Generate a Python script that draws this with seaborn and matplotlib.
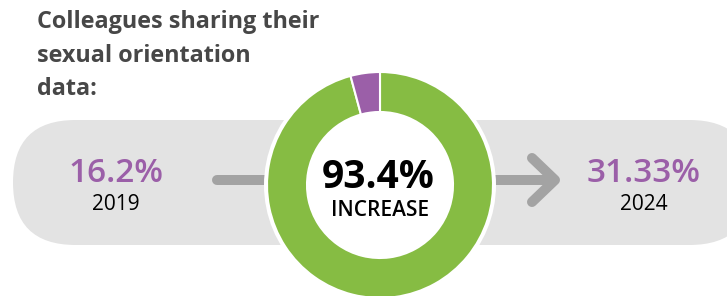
import numpy as np
import seaborn as sns
import matplotlib.pyplot as plt
from matplotlib.patches import FancyBboxPatch, Circle

years = ["2019", "2024"]
share_labels = ["16.2%", "31.33%"]
increase_label = "93.4%"
donut_parts = ["increase", "rest"]
donut_values = [95.8, 4.2]
title_lines = ["Colleagues sharing their", "sexual orientation", "data:"]

green = "#86bc43"
purple = "#9b5fa8"
grey_band = "#e3e3e3"
grey_arrow = "#a3a3a3"

sns.set_theme(style="white")
plt.rcParams['font.family'] = ['Open Sans', 'DejaVu Sans']

fig = plt.figure(figsize=(7.27, 2.96), dpi=100)
ax = fig.add_axes([0, 0, 1, 1])

H = 296
# grey pill behind everything
band = FancyBboxPatch((13, H - 245), 739, 125,
                      boxstyle="round,pad=0,rounding_size=62.5",
                      fc=grey_band, ec="none", zorder=0)
ax.add_patch(band)

# arrows
lw = 7.2
ax.plot([217, 300], [H - 180, H - 180], color=grey_arrow, lw=lw,
        solid_capstyle="round", zorder=1)
ax.plot([460, 553], [H - 180, H - 180], color=grey_arrow, lw=lw,
        solid_capstyle="round", zorder=1)
ax.plot([532, 555, 532], [H - 158, H - 180, H - 202], color=grey_arrow, lw=lw,
        solid_capstyle="round", solid_joinstyle="round", zorder=1)

# donut
cx, cy, r = 380, H - 185, 113
ax.add_patch(Circle((cx, cy), r + 3, fc="white", ec="none", zorder=2))
wedges, _ = ax.pie(donut_values, colors=[green, purple], center=(cx, cy),
                   radius=r, startangle=90, counterclock=False,
                   wedgeprops=dict(width=40, edgecolor="white", linewidth=1.5),
                   frame=True)
for w in wedges:
    w.set_zorder(3)
ax.add_patch(Circle((cx, cy), r - 40, fc="white", ec="none", zorder=3))

ax.text(cx - 2, H - 178, increase_label, ha="center", va="center", fontsize=28,
        fontweight="bold", color="black", zorder=4)
ax.text(cx, H - 211, "INCREASE", ha="center", va="center", fontsize=15,
        fontweight="semibold", color="black", zorder=4)

# side values
for x, lab, yr in zip([116, 644], share_labels, years):
    ax.text(x, H - 174, lab, ha="center", va="center", fontsize=24,
            fontweight="semibold", color=purple, zorder=4)
    ax.text(x, H - 204, yr, ha="center", va="center", fontsize=15,
            color="black", zorder=4)

# title
for i, line in enumerate(title_lines):
    ax.text(37, H - 22 - 33.5 * i, line, ha="left", va="center", fontsize=16.8,
            fontweight="bold", color="#474747")

ax.set_xlim(0, 727)
ax.set_ylim(0, H)
ax.set_aspect("equal")
ax.axis("off")

fig.savefig("out.png", dpi=100)
